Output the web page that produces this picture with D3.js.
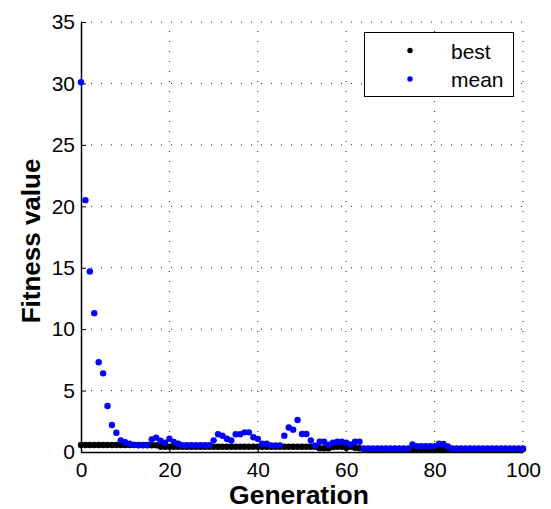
<!DOCTYPE html>
<html><head><meta charset="utf-8">
<script src="https://cdn.jsdelivr.net/npm/d3@7"></script>
<style>body{margin:0;background:#fff;} text{font-family:"Liberation Sans",Arial,Helvetica,sans-serif;}</style>
</head><body>
<svg id="chart" width="551" height="509"></svg>
<script>
const generations = d3.range(0, 101);
const meanValues = [
 30.1, 20.5, 14.7, 11.3, 7.3, 6.4, 3.75, 2.2, 1.57, 0.95,
 0.8, 0.67, 0.58, 0.55, 0.55, 0.55, 1.03, 1.17, 0.92, 0.76,
 1.08, 0.81, 0.67, 0.55, 0.55, 0.55, 0.55, 0.55, 0.55, 0.55,
 0.95, 1.45, 1.32, 1.08, 0.93, 1.45, 1.45, 1.6, 1.6, 1.2,
 1.07, 0.67, 0.67, 0.54, 0.54, 0.54, 1.33, 2.0, 1.82, 2.6,
 1.46, 1.46, 0.93, 0.52, 0.84, 0.84, 0.6, 0.76, 0.84, 0.84,
 0.76, 0.62, 0.84, 0.84, 0.28, 0.28, 0.28, 0.28, 0.28, 0.28,
 0.28, 0.28, 0.28, 0.28, 0.28, 0.62, 0.48, 0.48, 0.48, 0.48,
 0.48, 0.68, 0.66, 0.45, 0.28, 0.28, 0.28, 0.28, 0.28, 0.28,
 0.28, 0.28, 0.28, 0.28, 0.28, 0.28, 0.28, 0.28, 0.28, 0.28,
 0.28
];
const bestValues = [
 0.57, 0.57, 0.57, 0.57, 0.57, 0.57, 0.57, 0.57, 0.57, 0.57,
 0.57, 0.57, 0.57, 0.57, 0.57, 0.57, 0.55, 0.55, 0.43, 0.43,
 0.43, 0.43, 0.43, 0.43, 0.43, 0.43, 0.43, 0.43, 0.43, 0.43,
 0.43, 0.43, 0.43, 0.43, 0.43, 0.43, 0.43, 0.43, 0.43, 0.43,
 0.43, 0.43, 0.43, 0.43, 0.43, 0.43, 0.43, 0.43, 0.43, 0.43,
 0.43, 0.43, 0.43, 0.43, 0.3, 0.3, 0.3, 0.4, 0.43, 0.43,
 0.35, 0.43, 0.35, 0.3, 0.25, 0.25, 0.25, 0.25, 0.25, 0.25,
 0.25, 0.25, 0.25, 0.25, 0.25, 0.25, 0.25, 0.25, 0.25, 0.25,
 0.25, 0.25, 0.25, 0.25, 0.25, 0.25, 0.25, 0.25, 0.25, 0.25,
 0.25, 0.25, 0.25, 0.25, 0.25, 0.25, 0.25, 0.25, 0.25, 0.25,
 0.25
];
const xTicks = [0, 20, 40, 60, 80, 100];
const yTicks = [0, 5, 10, 15, 20, 25, 30, 35];
const seriesNames = ["best", "mean"];
const seriesColors = ["#000000", "#0000ff"];

const svg = d3.select("#chart");
const L = 81, R = 523, T = 22, B = 452;
const x = d3.scaleLinear().domain([0, 100]).range([L, R]);
const y = d3.scaleLinear().domain([0, 35]).range([B, T]);

// grid
const grid = svg.append("g");
grid.selectAll("line.v").data(xTicks.filter(d => d > 0)).enter().append("line")
  .attr("x1", d => x(d)).attr("x2", d => x(d)).attr("y1", B).attr("y2", T)
  .attr("stroke", "#222").attr("stroke-width", 1).attr("stroke-dasharray", "1,9");
grid.selectAll("line.h").data(yTicks.filter(d => d > 0)).enter().append("line")
  .attr("y1", d => y(d)).attr("y2", d => y(d)).attr("x1", L).attr("x2", R)
  .attr("stroke", "#222").attr("stroke-width", 1).attr("stroke-dasharray", "1,9");

// axes
const xAxis = d3.axisBottom(x).tickValues(xTicks).tickSizeInner(-5).tickSizeOuter(0).tickPadding(10);
const yAxis = d3.axisLeft(y).tickValues(yTicks).tickSizeInner(-5).tickSizeOuter(0).tickPadding(6);
const gx = svg.append("g").attr("transform", `translate(0,${B})`).call(xAxis);
const gy = svg.append("g").attr("transform", `translate(${L},0)`).call(yAxis);
[gx, gy].forEach(g => {
  g.select(".domain").attr("stroke", "#000").attr("stroke-width", 1.5);
  g.selectAll(".tick line").attr("stroke", "#000");
  g.selectAll(".tick text").attr("font-size", 21).attr("fill", "#000")
    .style("font-family", '"Liberation Sans", Arial, sans-serif');
});

// points
const pts = svg.append("g");
const seriesData = [bestValues, meanValues];
seriesData.forEach((vals, i) => {
  pts.selectAll(null).data(generations).enter().append("circle")
    .attr("cx", d => x(d)).attr("cy", d => y(vals[d])).attr("r", 3.2)
    .attr("fill", seriesColors[i]);
});

// labels
svg.append("text").attr("x", 299).attr("y", 504).attr("text-anchor", "middle")
  .attr("font-size", 26.5).attr("font-weight", "bold").text("Generation");
svg.append("text").attr("transform", `translate(40,241) rotate(-90)`)
  .attr("text-anchor", "middle").attr("font-size", 26).attr("font-weight", "bold").text("Fitness value");

// legend
const lg = svg.append("g");
lg.append("rect").attr("x", 364.5).attr("y", 32.5).attr("width", 149).attr("height", 64)
  .attr("fill", "#fff").attr("stroke", "#000").attr("stroke-width", 1);
seriesNames.forEach((n, i) => {
  lg.append("circle").attr("cx", 410).attr("cy", 50.5 + i * 28.5).attr("r", 2.7).attr("fill", seriesColors[i]);
  lg.append("text").attr("x", 451).attr("y", 58.5 + i * 28.5).attr("font-size", 21).text(n);
});
</script>
</body></html>
